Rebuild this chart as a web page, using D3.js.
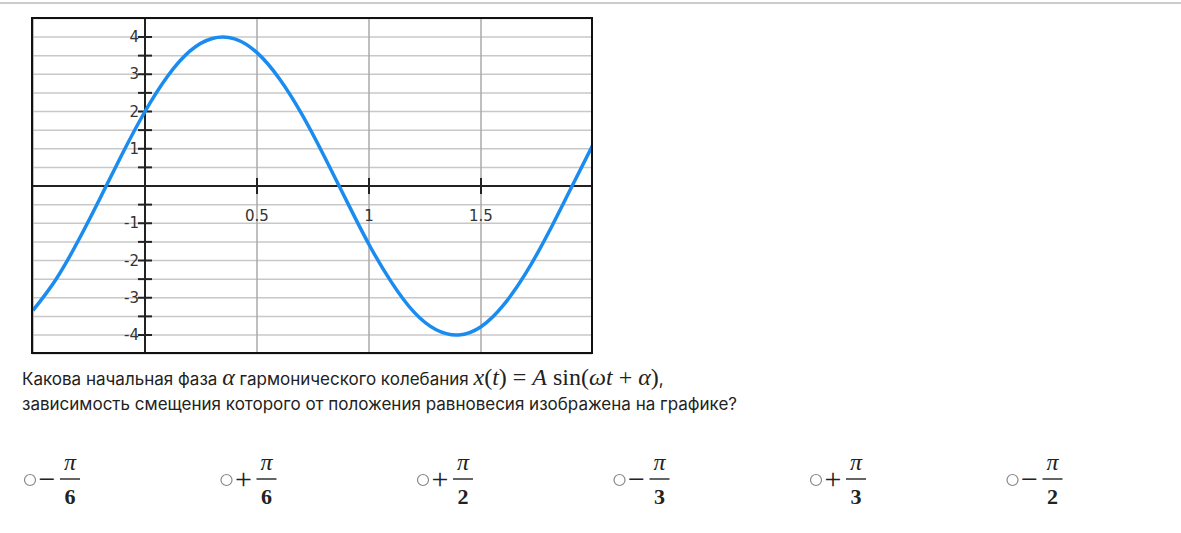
<!DOCTYPE html><html><head><meta charset="utf-8">
<script src="https://cdn.jsdelivr.net/npm/d3@7"></script>
<style>body{margin:0;background:#fff;font-family:Inter,"Noto Sans",sans-serif}</style></head><body>
<svg id="c" width="1181" height="533"></svg>
<script>
const tValues=[-0.5,-0.4,-0.3,-0.2,-0.1,0,0.1,0.2,0.3,0.4,0.5,0.6,0.7,0.8,0.9,1.0,1.1,1.2,1.3,1.4,1.5,1.6,1.7,1.8,1.9,2.0];
const xValues=[-3.34,-2.53,-1.49,-0.32,0.88,2.00,2.94,3.62,3.96,3.95,3.58,2.88,1.93,0.80,-0.40,-1.57,-2.58,-3.38,-3.86,-4.00,-3.78,-3.20,-2.34,-1.27,-0.08,1.11];
const xTicks=[0.5,1,1.5];
const yTicks=[-4,-3,-2,-1,1,2,3,4];
const options=["−","+","+","−","+","−"];
const denoms=["6","6","2","3","3","2"];
const svg=d3.select("#c");
svg.append("line").attr("x1",0).attr("x2",1181).attr("y1",3).attr("y2",3).attr("stroke","#999");
const L=32,R=592,T=18,B=353;
const x=d3.scaleLinear().domain([0,1]).range([145,369]);
const y=d3.scaleLinear().domain([0,4]).range([186,37]);
const g=svg.append("g");
g.append("defs").append("clipPath").attr("id","cp").append("rect").attr("x",L).attr("y",T).attr("width",R-L).attr("height",B-T);
const hs=d3.range(-4.5,4.51,0.5);
g.selectAll(".h").data(hs).join("line").attr("x1",L).attr("x2",R).attr("y1",d=>y(d)).attr("y2",d=>y(d)).attr("stroke","#c8c8c8").attr("stroke-width",1.5);
g.selectAll(".v").data([-0.5,0.5,1,1.5]).join("line").attr("y1",T).attr("y2",B).attr("x1",d=>x(d)).attr("x2",d=>x(d)).attr("stroke","#aaa").attr("stroke-width",1.5);
g.append("line").attr("x1",L).attr("x2",R).attr("y1",y(0)).attr("y2",y(0)).attr("stroke","#222").attr("stroke-width",2);
g.append("line").attr("x1",x(0)).attr("x2",x(0)).attr("y1",T).attr("y2",B).attr("stroke","#222").attr("stroke-width",2);
g.selectAll(".yt").data(d3.range(-4,4.01,0.5).filter(d=>d!==0)).join("line").attr("x1",x(0)-7).attr("x2",x(0)+7).attr("y1",d=>y(d)).attr("y2",d=>y(d)).attr("stroke","#222").attr("stroke-width",2);
g.selectAll(".xt").data(xTicks).join("line").attr("x1",d=>x(d)).attr("x2",d=>x(d)).attr("y1",y(0)-8).attr("y2",y(0)+8).attr("stroke","#222").attr("stroke-width",2);
g.selectAll(".yl").data(yTicks).join("text").attr("x",x(0)-6).attr("y",d=>y(d)+5).attr("text-anchor","end").attr("font-size",15).attr("fill","#333").attr("font-family","DejaVu Sans").text(d=>d);
g.selectAll(".xl").data(xTicks).join("text").attr("x",d=>x(d)).attr("y",y(0)+35).attr("text-anchor","middle").attr("font-size",15).attr("fill","#333").attr("font-family","DejaVu Sans").text(d=>d);
g.append("path").datum(tValues.map((t,i)=>[t,xValues[i]])).attr("clip-path","url(#cp)")
 .attr("d",d3.line().x(d=>x(d[0])).y(d=>y(d[1])).curve(d3.curveNatural)).attr("fill","none").attr("stroke","#1a8cf0").attr("stroke-width",3.5);
g.append("rect").attr("x",L).attr("y",T).attr("width",R-L).attr("height",B-T).attr("fill","none").attr("stroke","#111").attr("stroke-width",2);
const q=svg.append("text").attr("x",22).attr("y",385).attr("font-size",17).attr("fill","#222");
q.append("tspan").text("Какова начальная фаза ");
q.append("tspan").attr("font-family","Liberation Serif").attr("font-style","italic").attr("font-size",24).text("α");
q.append("tspan").text(" гармонического колебания ");
q.append("tspan").attr("font-family","Liberation Serif").attr("font-size",24).html("<tspan font-style='italic'>x</tspan>(<tspan font-style='italic'>t</tspan>) = <tspan font-style='italic'>A</tspan> sin(<tspan font-style='italic'>ωt</tspan> + <tspan font-style='italic'>α</tspan>)");
q.append("tspan").text(",");
svg.append("text").attr("x",22).attr("y",410).attr("font-size",17).attr("fill","#222").text("зависимость смещения которого от положения равновесия изображена на графике?");
options.forEach((s,i)=>{
 const ox=30+i*196.5;
 svg.append("circle").attr("cx",ox).attr("cy",480).attr("r",5.5).attr("fill","#fff").attr("stroke","#888").attr("stroke-width",1.2);
 svg.append("text").attr("x",ox+17).attr("y",489).attr("text-anchor","middle").attr("font-family","Liberation Serif").attr("font-size",30).attr("fill","#222").text(s);
 const fx=ox+40;
 svg.append("text").attr("x",fx).attr("y",470).attr("text-anchor","middle").attr("font-family","Liberation Serif").attr("font-style","italic").attr("font-size",24).attr("fill","#222").text("π");
 svg.append("line").attr("x1",fx-10).attr("x2",fx+10).attr("y1",479).attr("y2",479).attr("stroke","#222").attr("stroke-width",1.4);
 svg.append("text").attr("x",fx).attr("y",504).attr("text-anchor","middle").attr("font-family","Liberation Serif").attr("font-weight","bold").attr("font-size",22).attr("fill","#222").text(denoms[i]);
});
</script></body></html>
